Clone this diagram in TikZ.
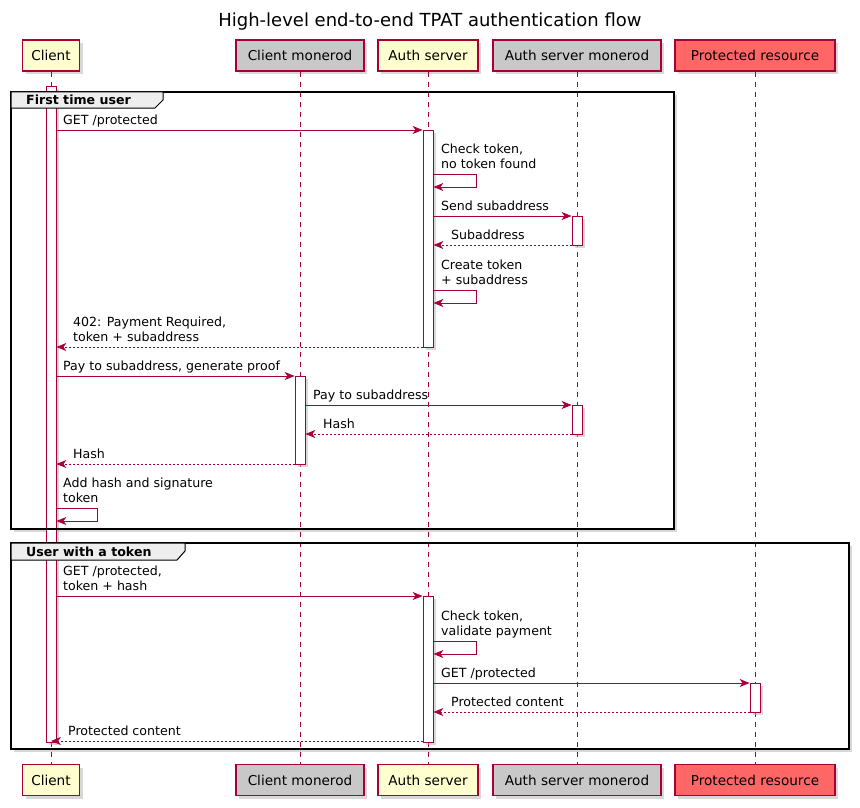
\documentclass[tikz,border=0pt]{standalone}
\usepackage{fontspec}
\setmainfont{DejaVu Sans}
\usetikzlibrary{arrows.meta, shadows}

\definecolor{umlred}{HTML}{A80036}
\definecolor{umlyellow}{HTML}{FEFECE}
\definecolor{umlgrey}{HTML}{C8C8C8}
\definecolor{umlpink}{HTML}{FF6666}
\definecolor{tabgrey}{HTML}{EEEEEE}

\tikzset{
  umlshadow/.style = {drop shadow={shadow xshift=3pt, shadow yshift=-3pt, fill=black!30}},
  actor/.style = {draw=umlred, line width=1.2pt, minimum height=31pt, inner sep=0pt,
    font=\fontsize{13.6}{16}\selectfont, umlshadow},
  lifeline/.style = {draw=umlred, line width=0.8pt, dash pattern=on 5pt off 5pt},
  bar/.style = {draw=umlred, fill=white, line width=0.8pt, minimum width=10pt, inner sep=0pt, umlshadow},
  msg/.style = {draw=umlred, line width=0.8pt, -{Stealth[length=10pt, width=8pt, inset=3pt]}},
  ret/.style = {msg, dash pattern=on 2pt off 2pt},
  lbl/.style = {anchor=south west, inner sep=0pt, text depth=3pt, align=left,
    font=\fontsize{12.6}{15}\selectfont},
  framebg/.style = {fill=white, umlshadow},
  frame/.style = {draw=black, line width=1.5pt},
  tab/.style = {draw=black, line width=1pt, fill=tabgrey},
  tablabel/.style = {anchor=west, inner sep=0pt, font=\bfseries\fontsize{12.6}{15}\selectfont}
}

\begin{document}
\begin{tikzpicture}[x=1pt, y=-1pt]
  \useasboundingbox[fill=white] (0,0) rectangle (860,808);

  \node[anchor=base, font=\fontsize{18}{20}\selectfont] (title) at (430,27)
    {High-level end-to-end TPAT authentication flow};

  % group backgrounds
  \fill[framebg] (11,92) rectangle (674,529);
  \fill[framebg] (11,543) rectangle (849,749);

  % participants, top and bottom
  \node[actor, fill=umlyellow, minimum width=57pt] (client) at (51,55.5) {Client};
  \node[actor, fill=umlgrey, minimum width=128pt] (cmon) at (300,55.5) {Client monerod};
  \node[actor, fill=umlyellow, minimum width=100pt] (auth) at (428,55.5) {Auth server};
  \node[actor, fill=umlgrey, minimum width=168pt] (amon) at (577,55.5) {Auth server monerod};
  \node[actor, fill=umlpink, minimum width=160pt] (res) at (755,55.5) {Protected resource};

  \node[actor, fill=umlyellow, minimum width=57pt] (clientB) at (51,780) {Client};
  \node[actor, fill=umlgrey, minimum width=128pt] (cmonB) at (300,780) {Client monerod};
  \node[actor, fill=umlyellow, minimum width=100pt] (authB) at (428,780) {Auth server};
  \node[actor, fill=umlgrey, minimum width=168pt] (amonB) at (577,780) {Auth server monerod};
  \node[actor, fill=umlpink, minimum width=160pt] (resB) at (755,780) {Protected resource};

  \foreach \p in {client, cmon, auth, amon, res}
    \draw[lifeline] (\p.south) -- (\p B.north);

  % activations
  \node[bar, minimum height=656pt] (barClient) at (51,414) {};
  \node[bar, minimum height=217pt] (barAuthA) at (428,238.5) {};
  \node[bar, minimum height=146pt] (barAuthB) at (428,669) {};
  \node[bar, minimum height=29pt] (barAmonA) at (577,230.5) {};
  \node[bar, minimum height=29pt] (barAmonB) at (577,419.5) {};
  \node[bar, minimum height=88pt] (barCmon) at (300,420) {};
  \node[bar, minimum height=29pt] (barRes) at (755,697.5) {};

  % first time user
  \draw[msg] (barClient.east |- 0,130) -- (barAuthA.west |- 0,130);
  \node[lbl] (m1) at (63,127.5) {GET /protected};
  \draw[msg] (barAuthA.east |- 0,174) -- ++(43,0) -- ++(0,13) -- (barAuthA.east |- 0,187);
  \node[lbl] (m2) at (441,171.5) {Check token,\\no token found};
  \draw[msg] (barAuthA.east |- 0,216) -- (barAmonA.west |- 0,216);
  \node[lbl] (m3) at (441,213.5) {Send subaddress};
  \draw[ret] (barAmonA.west |- 0,245) -- (barAuthA.east |- 0,245);
  \node[lbl] (m4) at (451,242.5) {Subaddress};
  \draw[msg] (barAuthA.east |- 0,290) -- ++(43,0) -- ++(0,13) -- (barAuthA.east |- 0,303);
  \node[lbl] (m5) at (441,287.5) {Create token\\+ subaddress};
  \draw[ret] (barAuthA.west |- 0,347) -- (barClient.east |- 0,347);
  \node[lbl] (m6) at (73,344.5) {402: Payment Required,\\token + subaddress};
  \draw[msg] (barClient.east |- 0,376) -- (barCmon.west |- 0,376);
  \node[lbl] (m7) at (63,373.5) {Pay to subaddress, generate proof};
  \draw[msg] (barCmon.east |- 0,405) -- (barAmonB.west |- 0,405);
  \node[lbl] (m8) at (313,402.5) {Pay to subaddress};
  \draw[ret] (barAmonB.west |- 0,434) -- (barCmon.east |- 0,434);
  \node[lbl] (m9) at (323,431.5) {Hash};
  \draw[ret] (barCmon.west |- 0,464) -- (barClient.east |- 0,464);
  \node[lbl] (m10) at (73,461.5) {Hash};
  \draw[msg] (barClient.east |- 0,508) -- ++(41,0) -- ++(0,13) -- (barClient.east |- 0,521);
  \node[lbl] (m11) at (63,505.5) {Add hash and signature\\token};

  % user with a token
  \draw[msg] (barClient.east |- 0,596) -- (barAuthB.west |- 0,596);
  \node[lbl] (m12) at (63,593.5) {GET /protected,\\token + hash};
  \draw[msg] (barAuthB.east |- 0,641) -- ++(43,0) -- ++(0,13) -- (barAuthB.east |- 0,654);
  \node[lbl] (m13) at (441,638.5) {Check token,\\validate payment};
  \draw[msg] (barAuthB.east |- 0,683) -- (barRes.west |- 0,683);
  \node[lbl] (m14) at (441,680.5) {GET /protected};
  \draw[ret] (barRes.west |- 0,712) -- (barAuthB.east |- 0,712);
  \node[lbl] (m15) at (451,709.5) {Protected content};
  \draw[ret] (barAuthB.west |- 0,741) -- (clientB.north |- 0,741);
  \node[lbl] (m16) at (68,738.5) {Protected content};

  % group borders and tabs on top
  \draw[frame] (11,92) rectangle (674,529);
  \draw[tab] (11,92) -- (163,92) -- (163,100) -- (155,108) -- (11,108) -- cycle;
  \node[tablabel] (firstTime) at (26,100) {First time user};

  \draw[frame] (11,543) rectangle (849,749);
  \draw[tab] (11,543) -- (185,543) -- (185,551) -- (177,560) -- (11,560) -- cycle;
  \node[tablabel] (withToken) at (26,551.5) {User with a token};
\end{tikzpicture}
\end{document}
